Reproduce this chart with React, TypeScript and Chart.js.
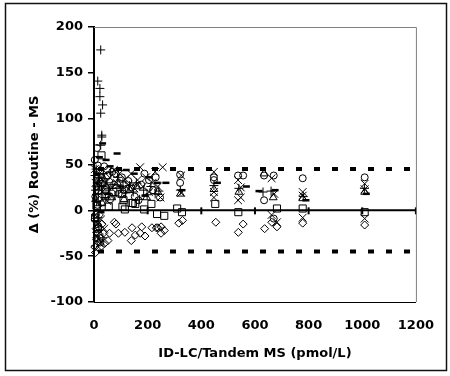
import React, { useEffect, useRef } from "react";
import { Chart, registerables } from "chart.js";

Chart.register(...registerables);

const xTicks = [0, 200, 400, 600, 800, 1000, 1200];
const yTicks = [-100, -50, 0, 50, 100, 150, 200];
const limitLines = [45, -45];
const zeroLine = 0;

const plusPts: [number, number][] = [
  [25, 175], [14, 141], [22, 133], [22, 124], [32, 115], [25, 106], [29, 82], [29, 80], [25, 71],
  [4, 38], [6, 22], [8, 45], [10, 10], [12, 30], [14, -8], [16, 18], [18, -22], [20, 36], [24, 5],
  [28, 26], [33, -30], [36, 40], [42, 14], [48, 30], [55, 22], [62, 42], [70, 28], [78, 16], [88, 36],
  [98, 24], [108, 31], [118, 19], [132, 27], [146, 20], [158, 30], [170, 12], [185, 22], [198, 17],
  [212, 26], [228, 18], [242, 21], [322, 22], [447, 27], [540, 24], [630, 20], [660, 21], [780, 15], [1008, 24],
];

const circlePts: [number, number][] = [
  [11, 68], [14, 49], [22, 42], [28, 36], [32, 29], [3, 55], [5, 15], [7, -5], [9, 26], [13, 6],
  [17, -18], [19, 32], [24, -35], [38, 48], [44, 22], [52, 38], [60, 12], [68, 42], [75, 28], [81, 40],
  [92, 18], [104, 36], [115, 22], [128, 32], [140, 25], [152, 15], [166, 11], [176, 28], [188, 40],
  [205, 33], [220, 22], [230, 36], [246, 14], [321, 39], [321, 30], [447, 36], [447, 33], [537, 38],
  [556, 38], [634, 38], [634, 11], [670, 38], [670, -9], [778, 35], [1009, 36],
];

const xPts: [number, number][] = [
  [3, 45], [5, -42], [6, 30], [8, -28], [10, 18], [12, 40], [14, -15], [16, 8], [18, 25], [21, -36],
  [23, 35], [26, -10], [30, 20], [34, 44], [38, -20], [43, 30], [50, 10], [58, 36], [66, 24], [74, 44],
  [84, 30], [95, 40], [106, 22], [117, 34], [128, 28], [138, 40], [150, 24], [162, 33], [172, 47],
  [182, 26], [194, 36], [206, 20], [218, 30], [228, 42], [238, 26], [248, 14], [256, 47], [325, 38],
  [325, 19], [447, 42], [447, 20], [447, 14], [537, 33], [547, 25], [547, 14], [537, 11], [662, 35],
  [672, 18], [662, -5], [682, -13], [778, 20], [778, 16], [778, -8], [1009, 29], [1009, 23], [1009, -9],
];

const dashPts: [number, number][] = [
  [32, 73], [86, 62], [20, 58], [45, 55], [60, 48], [10, 40], [120, 44], [150, 40], [205, 36],
  [236, 30], [100, 26], [52, 18], [26, -2], [8, -12], [190, 16], [328, 22], [460, 30], [568, 26],
  [615, 21], [675, 22], [790, 11], [1015, 18], [268, 30],
];

const triPts: [number, number][] = [
  [6, 12], [12, -32], [18, 28], [30, 8], [46, 26], [66, 14], [88, 30], [112, 12], [134, 22], [160, 26],
  [196, 14], [238, 20], [322, 18], [447, 23], [540, 20], [634, 40], [668, 14], [778, 13], [1009, 20],
];

const squarePts: [number, number][] = [
  [28, 60], [31, 31], [4, -8], [9, 5], [15, -20], [20, 14], [40, 16], [55, 4], [72, 20], [105, 18],
  [110, 11], [106, 4], [115, 1], [140, 8], [145, 8], [154, 7], [187, 1], [214, 7], [235, -4], [262, -6],
  [310, 2], [328, -2], [452, 7], [538, -2], [682, 2], [778, 2], [1009, -2],
];

const diamondPts: [number, number][] = [
  [3, -40], [5, -10], [6, -46], [8, -20], [10, -30], [12, -15], [15, -25], [18, -35], [20, -5], [22, -20],
  [25, -30], [28, -39], [30, -15], [35, -25], [40, -36], [52, -33], [58, -25], [76, -13], [82, -15],
  [91, -25], [115, -24], [139, -33], [142, -19], [154, -27], [172, -25], [178, -18], [190, -28],
  [216, -19], [232, -19], [238, -19], [250, -18], [250, -25], [262, -22], [316, -14], [330, -11],
  [454, -13], [538, -24], [556, -15], [636, -20], [682, -18], [663, -13], [778, -14], [1009, -16],
];

const toXY = (a: [number, number][]) => a.map(([x, y]) => ({ x, y }));

const FONT = "'DejaVu Sans', 'Liberation Sans', Arial, sans-serif";

const framePlugin = {
  id: "frame",
  beforeDatasetsDraw(chart: any) {
    const { ctx, chartArea, scales } = chart;
    const x = scales.x;
    const y0 = scales.y.getPixelForValue(zeroLine);
    ctx.save();
    ctx.strokeStyle = "#000";
    ctx.lineWidth = 2;
    for (const t of xTicks) {
      const px = x.getPixelForValue(t);
      ctx.beginPath();
      ctx.moveTo(px, y0 - 3);
      ctx.lineTo(px, y0 + 4);
      ctx.stroke();
    }
    ctx.strokeStyle = "#808080";
    ctx.lineWidth = 1;
    ctx.beginPath();
    ctx.moveTo(chartArea.left, chartArea.top + 0.5);
    ctx.lineTo(chartArea.right + 0.5, chartArea.top + 0.5);
    ctx.lineTo(chartArea.right + 0.5, chartArea.bottom);
    ctx.stroke();
    ctx.restore();
  },
  afterDraw(chart: any) {
    const { ctx } = chart;
    ctx.save();
    ctx.strokeStyle = "#111";
    ctx.lineWidth = 1.5;
    ctx.strokeRect(5.5, 3.5, 441, 367);
    ctx.restore();
  },
};

export default function App() {
  const ref = useRef<HTMLCanvasElement | null>(null);
  useEffect(() => {
    if (!ref.current) return;
    const mk = (data: [number, number][], style: string, r: number, bw = 1) => ({
      type: "scatter" as const,
      data: toXY(data),
      pointStyle: style,
      pointRadius: r,
      pointBorderColor: "#000",
      pointBackgroundColor: "rgba(255,255,255,0)",
      pointBorderWidth: bw,
      borderColor: "#000",
      backgroundColor: "rgba(255,255,255,0)",
      showLine: false,
      clip: false as any,
    });
    const refLine = (v: number, width: number, dash: number[]) => ({
      type: "line" as const,
      data: [
        { x: xTicks[0], y: v },
        { x: xTicks[xTicks.length - 1], y: v },
      ],
      borderColor: "#000",
      borderWidth: width,
      borderDash: dash,
      borderDashOffset: 14,
      borderCapStyle: "butt",
      pointRadius: 0,
      fill: false,
    });
    const fmt = (v: any) => String(v);
    const chart = new Chart(ref.current, {
      type: "scatter",
      data: {
        datasets: [
          refLine(zeroLine, 2, []) as any,
          refLine(limitLines[0], 4, [6, 12]) as any,
          refLine(limitLines[1], 4, [6, 12]) as any,
          mk(diamondPts, "rectRot", 4),
          mk(squarePts, "rect", 5),
          mk(triPts, "triangle", 4.5),
          mk(circlePts, "circle", 3.5),
          mk(xPts, "crossRot", 5.5),
          mk(plusPts, "cross", 4.5),
          mk(dashPts, "line", 3.5, 2.5),
        ],
      },
      options: {
        animation: false,
        responsive: false,
        devicePixelRatio: 1,
        events: [],
        layout: { padding: { top: 27, right: 23, left: 0, bottom: 0 } },
        plugins: { legend: { display: false }, tooltip: { enabled: false } },
        scales: {
          x: {
            type: "linear",
            min: xTicks[0],
            max: xTicks[xTicks.length - 1],
            afterFit: (s: any) => { s.height = 74; },
            afterBuildTicks: (s: any) => { s.ticks = xTicks.map((v) => ({ value: v })); },
            grid: { display: false, drawTicks: false },
            border: { display: true, color: "#000", width: 1 },
            ticks: { color: "#000", padding: 16, maxRotation: 0, callback: fmt, font: { family: FONT, size: 13, weight: "bold" } },
            title: {
              display: true,
              text: "ID-LC/Tandem MS (pmol/L)",
              color: "#000",
              font: { family: FONT, size: 13, weight: "bold" },
              padding: { top: 0, bottom: 15 },
            },
          },
          y: {
            type: "linear",
            min: yTicks[0],
            max: yTicks[yTicks.length - 1],
            afterFit: (s: any) => { s.width = 94; },
            afterBuildTicks: (s: any) => { s.ticks = yTicks.map((v) => ({ value: v })); },
            grid: { display: true, drawOnChartArea: false, drawTicks: true, tickLength: 6, color: "#000", lineWidth: 1.5 },
            border: { display: true, color: "#000", width: 2 },
            ticks: { color: "#000", padding: 5, callback: fmt, font: { family: FONT, size: 13, weight: "bold" } },
            title: {
              display: true,
              text: "Δ (%) Routine - MS",
              color: "#000",
              font: { family: FONT, size: 13, weight: "bold" },
              padding: { top: 27, bottom: 0 },
            },
          },
        },
      } as any,
      plugins: [framePlugin],
    });
    return () => chart.destroy();
  }, []);
  return (
    <div style={{ position: "absolute", left: 0, top: 0, width: 450, height: 376, background: "#fff" }}>
      <canvas ref={ref} width={450} height={376} style={{ display: "block" }} />
    </div>
  );
}
